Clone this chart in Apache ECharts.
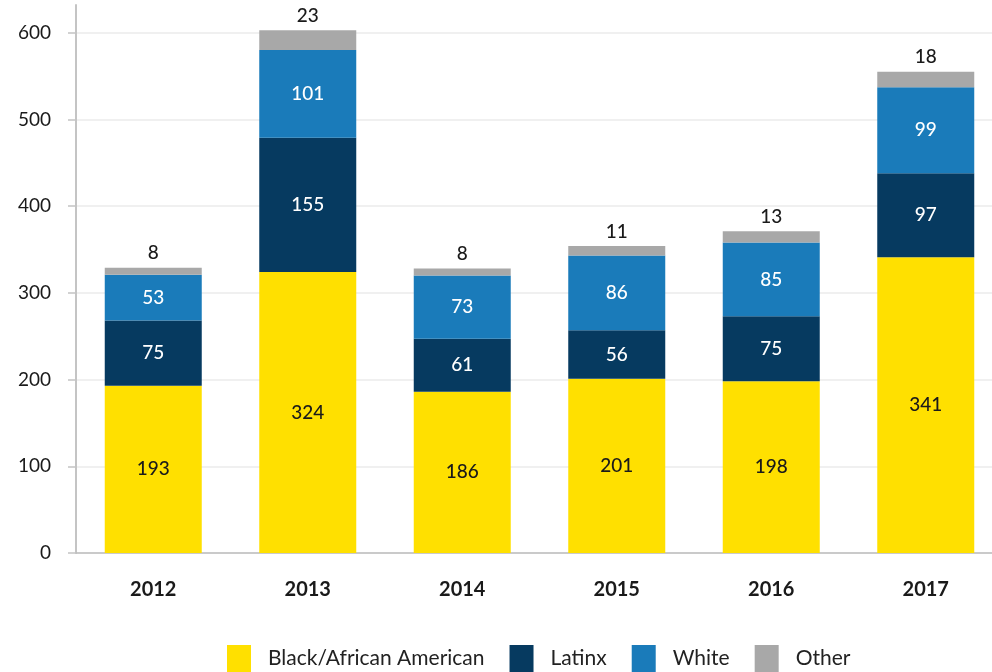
<!DOCTYPE html>
<html>
<head>
<meta charset="utf-8">
<script src="https://cdn.jsdelivr.net/npm/echarts@6/dist/echarts.min.js"></script>
<style>
  html, body { margin: 0; padding: 0; background: #fff; }
  #chart { width: 992px; height: 672px; }
</style>
</head>
<body>
<div id="chart"></div>
<script>
// Yearly counts by group
const years = ['2012', '2013', '2014', '2015', '2016', '2017'];
const blackAfricanAmerican = [193, 324, 186, 201, 198, 341];
const latinx = [75, 155, 61, 56, 75, 97];
const white = [53, 101, 73, 86, 85, 99];
const other = [8, 23, 8, 11, 13, 18];
const yTicks = [0, 100, 200, 300, 400, 500, 600];

const FONT = 'Lato, "Noto Sans", sans-serif';

function stackSeries(name, data, color, labelColor) {
  return {
    name: name,
    type: 'bar',
    stack: 'total',
    barWidth: 97,
    data: data,
    itemStyle: { color: color },
    label: {
      show: true,
      position: 'inside',
      color: labelColor,
      fontFamily: FONT,
      fontSize: 19,
      fontWeight: 500
    }
  };
}

const chart = echarts.init(document.getElementById('chart'));
chart.setOption({
  animation: false,
  backgroundColor: '#ffffff',
  grid: {
    left: 76, top: 5, width: 927, bottom: 119,
    containLabel: false,
    outerBoundsMode: 'none'
  },
  legend: {
    bottom: -5,
    left: 222,
    itemWidth: 24,
    itemHeight: 27,
    itemGap: 25,
    icon: 'rect',
    textStyle: {
      fontFamily: FONT,
      fontSize: 21,
      color: '#222',
      padding: [0, 0, 0, 12]
    },
    data: ['Black/African American', 'Latinx', 'White', 'Other']
  },
  xAxis: {
    type: 'category',
    data: years,
    axisLine: { show: true, lineStyle: { color: '#bdbdbd', width: 1.5 } },
    axisTick: { show: false },
    axisLabel: {
      margin: 27,
      color: '#1a1a1a',
      fontFamily: FONT,
      fontSize: 20,
      fontWeight: 'bold'
    }
  },
  yAxis: {
    type: 'value',
    min: 0,
    max: 632,
    axisLine: { show: true, lineStyle: { color: '#c4c4c4', width: 2 } },
    axisTick: {
      show: true,
      length: 8,
      customValues: yTicks,
      lineStyle: { color: '#c4c4c4', width: 1.5 }
    },
    axisLabel: {
      customValues: yTicks,
      margin: 25,
      color: '#1a1a1a',
      fontFamily: FONT,
      fontSize: 19
    },
    splitLine: { show: true, lineStyle: { color: '#ebebeb', width: 1.5 } }
  },
  series: [
    stackSeries('Black/African American', blackAfricanAmerican, '#FFE000', '#1a1a1a'),
    stackSeries('Latinx', latinx, '#063A60', '#ffffff'),
    stackSeries('White', white, '#1A7BBA', '#ffffff'),
    {
      name: 'Other',
      type: 'bar',
      stack: 'total',
      barWidth: 97,
      data: other,
      itemStyle: { color: '#A8A8A8' },
      label: {
        show: true,
        position: 'top',
        distance: 5,
        color: '#1a1a1a',
        fontFamily: FONT,
        fontSize: 19,
        fontWeight: 500
      }
    }
  ]
});
</script>
</body>
</html>
